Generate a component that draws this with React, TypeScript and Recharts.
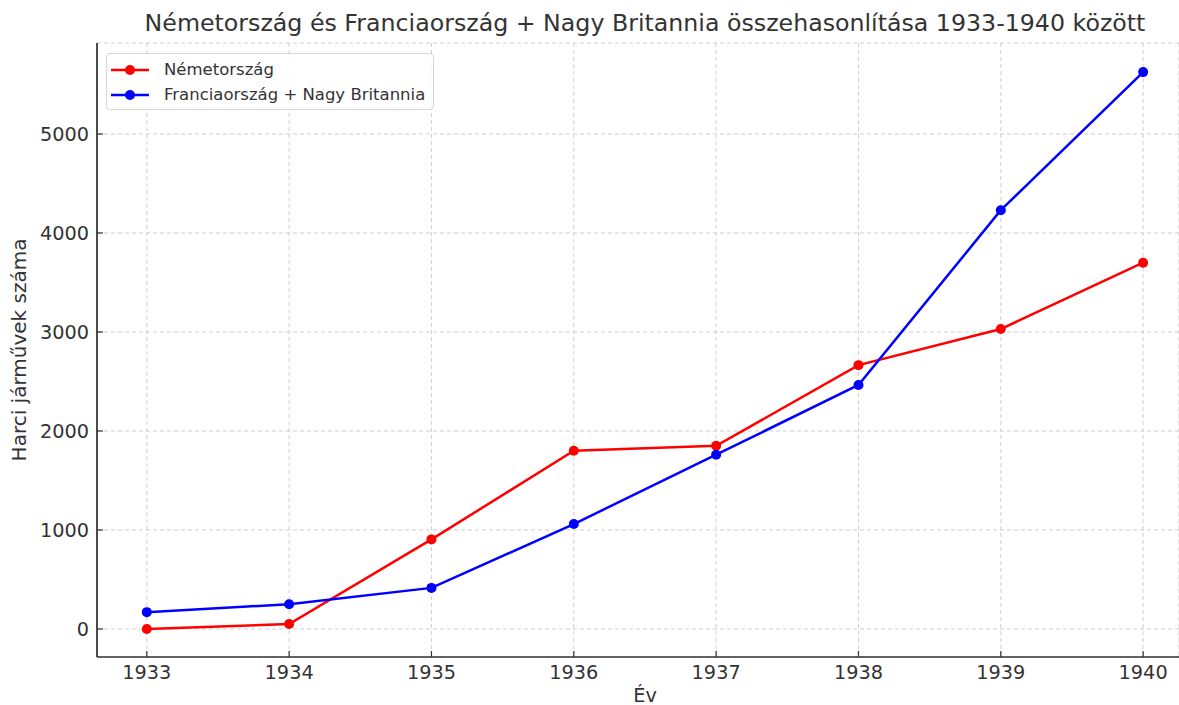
import React from "react";
import {
  LineChart,
  Line,
  XAxis,
  YAxis,
  CartesianGrid,
} from "recharts";

const years = [1933, 1934, 1935, 1936, 1937, 1938, 1939, 1940];
const germany = [0, 50, 905, 1800, 1850, 2665, 3030, 3700];
const franceBritain = [170, 250, 415, 1060, 1760, 2465, 4230, 5625];
const yTicks = [0, 1000, 2000, 3000, 4000, 5000];

const seriesNames = ["Németország", "Franciaország + Nagy Britannia"];
const seriesColors = ["#ff0000", "#0000ff"];

const chartData = years.map((year, i) => ({
  year,
  germany: germany[i],
  allies: franceBritain[i],
}));

const FONT = "'DejaVu Sans', sans-serif";
const TEXT = "#333333";

const XTick = (props: any) => {
  const { x, y, payload } = props;
  return (
    <g>
      <line x1={x} y1={y} x2={x} y2={y - 6} stroke={TEXT} strokeWidth={1.2} />
      <text x={x} y={y + 22} textAnchor="middle" fill={TEXT} fontSize={19.3} fontFamily={FONT}>
        {payload.value}
      </text>
    </g>
  );
};

const YTick = (props: any) => {
  const { x, y, payload } = props;
  return (
    <g>
      <line x1={x} y1={y} x2={x + 6} y2={y} stroke={TEXT} strokeWidth={1.2} />
      <text x={x - 8} y={y + 7} textAnchor="end" fill={TEXT} fontSize={19.3} fontFamily={FONT}>
        {payload.value}
      </text>
    </g>
  );
};

// legend drawn as a plain overlay so it takes no room from the plot
const LegendBox = () => (
  <div
    style={{
      position: "absolute",
      left: 106,
      top: 53,
      width: 328,
      height: 57,
      boxSizing: "border-box",
      background: "rgba(255,255,255,0.85)",
      border: "1px solid #d6d6d6",
      borderRadius: 4,
      padding: "3px 0 0 4px",
      fontFamily: FONT,
      fontSize: 16.5,
      color: TEXT,
    }}
  >
    {seriesNames.map((name, i) => (
      <div key={name} style={{ display: "flex", alignItems: "center", height: 25 }}>
        <svg width={38} height={12} style={{ marginRight: 15 }}>
          <line x1={0} y1={6} x2={38} y2={6} stroke={seriesColors[i]} strokeWidth={2.5} />
          <circle cx={19} cy={6} r={5} fill={seriesColors[i]} />
        </svg>
        <span>{name}</span>
      </div>
    ))}
  </div>
);

export default function App() {
  return (
    <div
      style={{
        position: "absolute",
        left: 0,
        top: 0,
        width: 1179,
        height: 705,
        overflow: "hidden",
        background: "#fff",
      }}
    >
      <div
        style={{
          position: "absolute",
          left: 0,
          top: 9,
          width: 1290,
          textAlign: "center",
          fontFamily: FONT,
          fontSize: 23.7,
          color: TEXT,
        }}
      >
        Németország és Franciaország + Nagy Britannia összehasonlítása 1933-1940 között
      </div>
      <LineChart
        width={1179}
        height={705}
        data={chartData}
        margin={{ top: 43, right: 0, bottom: 0, left: 0 }}
      >
        <CartesianGrid stroke="#cfcfcf" strokeDasharray="4 3" strokeWidth={1} />
        <XAxis
          dataKey="year"
          type="number"
          domain={[1932.65, 1940.252]}
          ticks={years}
          allowDataOverflow
          height={48}
          tickSize={0}
          tickMargin={0}
          tickLine={false}
          tick={<XTick />}
          axisLine={{ stroke: TEXT, strokeWidth: 1.6 }}
        />
        <YAxis
          type="number"
          domain={[-283, 5919]}
          ticks={yTicks}
          allowDataOverflow
          width={97}
          tickSize={0}
          tickMargin={0}
          tickLine={false}
          tick={<YTick />}
          axisLine={{ stroke: "#222", strokeWidth: 1.6 }}
          label={{
            value: "Harci járművek száma",
            angle: -90,
            position: "insideLeft",
            offset: 19,
            style: { textAnchor: "middle", fontFamily: FONT, fontSize: 20, fill: TEXT },
          }}
        />
        <Line
          dataKey="germany"
          name={seriesNames[0]}
          stroke={seriesColors[0]}
          strokeWidth={2.5}
          dot={{ r: 5, fill: seriesColors[0], stroke: seriesColors[0], strokeWidth: 0 }}
          isAnimationActive={false}
        />
        <Line
          dataKey="allies"
          name={seriesNames[1]}
          stroke={seriesColors[1]}
          strokeWidth={2.5}
          dot={{ r: 5, fill: seriesColors[1], stroke: seriesColors[1], strokeWidth: 0 }}
          isAnimationActive={false}
        />
      </LineChart>
      <LegendBox />
      <div
        style={{
          position: "absolute",
          left: 0,
          top: 684,
          width: 1290,
          textAlign: "center",
          fontFamily: FONT,
          fontSize: 19.3,
          color: TEXT,
        }}
      >
        Év
      </div>
    </div>
  );
}
